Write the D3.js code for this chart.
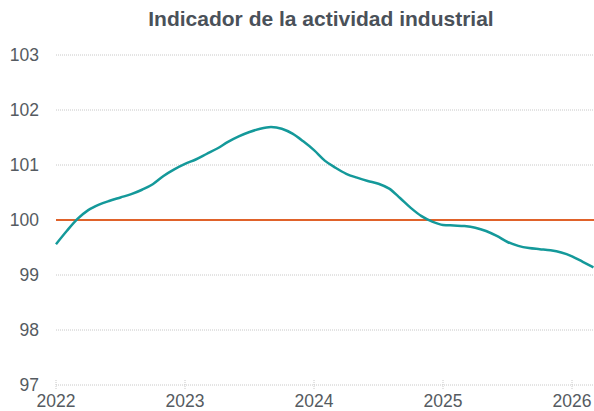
<!DOCTYPE html>
<html>
<head>
<meta charset="utf-8">
<script src="https://cdn.jsdelivr.net/npm/d3@7"></script>
<style>
	body { margin: 0; background: #fff; }
	text { font-family: "Liberation Sans", Arial, sans-serif; }
</style>
</head>
<body>
<div id="chart"></div>
<script>
// Monthly values, Jan 2022 .. Mar 2026
var start_year = 2022;
var values = [
	99.56, 99.80, 100.02, 100.18, 100.28, 100.35, 100.41, 100.47, 100.55, 100.65, 100.80, 100.92,
	101.02, 101.10, 101.20, 101.30, 101.42, 101.52, 101.60, 101.66, 101.69, 101.66, 101.57, 101.43,
	101.27, 101.08, 100.95, 100.84, 100.77, 100.71, 100.66, 100.57, 100.40, 100.22, 100.07, 99.97,
	99.91, 99.90, 99.89, 99.86, 99.80, 99.71, 99.60, 99.53, 99.49, 99.47, 99.45, 99.41,
	99.34, 99.24, 99.14
];
var reference_value = 100;
var y_ticks = [97, 98, 99, 100, 101, 102, 103];
var x_ticks = [2022, 2023, 2024, 2025, 2026];
var title = 'Indicador de la actividad industrial';

var total_width = 594;
var total_height = 411;
var margin = {
	top: 55,
	right: 0,
	bottom: 26,
	left: 56
};
var width = total_width - margin.left - margin.right;
var height = total_height - margin.top - margin.bottom;

var svg = d3.select('#chart')
	.append('svg')
	.attr('width', total_width)
	.attr('height', total_height);

// Title
svg.append('text')
	.attr('x', 321)
	.attr('y', 26)
	.attr('text-anchor', 'middle')
	.attr('font-size', '21px')
	.attr('font-weight', 'bold')
	.attr('fill', '#4a5159')
	.text(title);

var main = svg.append('g')
	.attr('transform', 'translate(' + margin.left + ',' + margin.top + ')');

// time in fractional years, one year = 129px
var x_scale = d3.scaleLinear().domain([2022, 2026]).range([0, 516]);
var y_scale = d3.scaleLinear().domain([97, 103]).range([height, 0]);

// Horizontal gridlines
main.selectAll('.grid')
	.data(y_ticks)
	.enter()
	.append('line')
	.attr('class', 'grid')
	.attr('x1', 0)
	.attr('x2', width)
	.attr('y1', function(d) { return y_scale(d); })
	.attr('y2', function(d) { return y_scale(d); })
	.attr('stroke', '#c8c8c8')
	.attr('stroke-width', 1)
	.attr('stroke-dasharray', '1,1');

// Small vertical ticks on the x axis
main.selectAll('.xtick')
	.data(x_ticks)
	.enter()
	.append('line')
	.attr('class', 'xtick')
	.attr('x1', function(d) { return x_scale(d); })
	.attr('x2', function(d) { return x_scale(d); })
	.attr('y1', height - 5)
	.attr('y2', height + 5)
	.attr('stroke', '#c8c8c8')
	.attr('stroke-width', 1)
	.attr('stroke-dasharray', '1,1');

// Y labels
main.selectAll('.ylabel')
	.data(y_ticks)
	.enter()
	.append('text')
	.attr('class', 'ylabel')
	.attr('x', -17)
	.attr('y', function(d) { return y_scale(d); })
	.attr('dy', '0.35em')
	.attr('text-anchor', 'end')
	.attr('font-size', '17.5px')
	.attr('fill', '#555b61')
	.text(function(d) { return d; });

// X labels (kept just inside the bottom edge)
main.selectAll('.xlabel')
	.data(x_ticks)
	.enter()
	.append('text')
	.attr('class', 'xlabel')
	.attr('x', function(d) { return x_scale(d); })
	.attr('y', height + 22)
	.attr('text-anchor', 'middle')
	.attr('font-size', '17.5px')
	.attr('fill', '#555b61')
	.text(function(d) { return d; });

// Reference line at 100
main.append('line')
	.attr('x1', 0)
	.attr('x2', width)
	.attr('y1', y_scale(reference_value))
	.attr('y2', y_scale(reference_value))
	.attr('stroke', '#e0622a')
	.attr('stroke-width', 2);

// Indicator line
var line = d3.line()
	.x(function(d, i) { return x_scale(start_year + i / 12); })
	.y(function(d) { return y_scale(d); })
	.curve(d3.curveMonotoneX);

main.append('path')
	.datum(values)
	.attr('d', line)
	.attr('fill', 'none')
	.attr('stroke', '#14999a')
	.attr('stroke-width', 2.5);
</script>
</body>
</html>
